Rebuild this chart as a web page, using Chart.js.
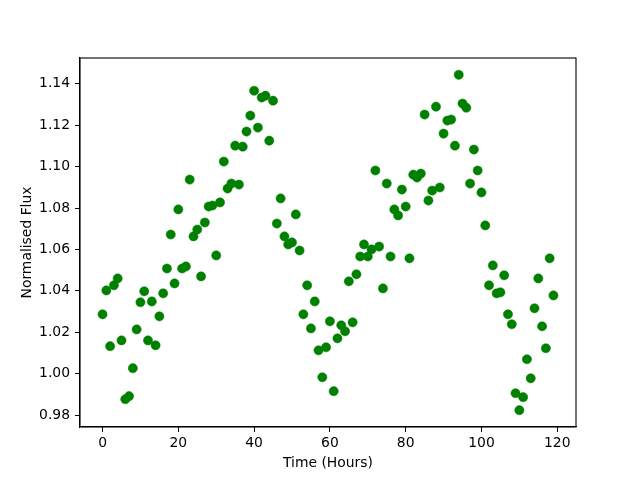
<!DOCTYPE html>
<html>
<head>
<meta charset="utf-8">
<script src="https://cdn.jsdelivr.net/npm/chart.js@4.4.1/dist/chart.umd.min.js"></script>
<style>
  html, body { margin: 0; padding: 0; background: #fff; }
  #wrap { width: 640px; height: 480px; }
</style>
</head>
<body>
<div id="wrap"><canvas id="c" width="640" height="480"></canvas></div>
<script>
const hours = [
    0, 1, 2, 3, 4, 5, 6, 7, 8, 9, 10, 11, 12, 13, 14, 15, 16, 17, 18, 19,
    20, 21, 22, 23, 24, 25, 26, 27, 28, 29, 30, 31, 32, 33, 34, 35, 36, 37, 38, 39,
    40, 41, 42, 43, 44, 45, 46, 47, 48, 49, 50, 51, 52, 53, 54, 55, 56, 57, 58, 59,
    60, 61, 62, 63, 64, 65, 66, 67, 68, 69, 70, 71, 72, 73, 74, 75, 76, 77, 78, 79,
    80, 81, 82, 83, 84, 85, 86, 87, 88, 89, 90, 91, 92, 93, 94, 95, 96, 97, 98, 99,
    100, 101, 102, 103, 104, 105, 106, 107, 108, 109, 110, 111, 112, 113, 114, 115, 116, 117, 118, 119
];
const flux = [
    1.0287, 1.0402, 1.0133, 1.0427, 1.0460, 1.0161, 0.9877, 0.9892, 1.0027, 1.0214,
    1.0345, 1.0398, 1.0161, 1.0349, 1.0137, 1.0277, 1.0388, 1.0508, 1.0672, 1.0436,
    1.0793, 1.0508, 1.0518, 1.0937, 1.0663, 1.0696, 1.0470, 1.0730, 1.0807, 1.0812,
    1.0571, 1.0827, 1.1024, 1.0894, 1.0918, 1.1101, 1.0913, 1.1096, 1.1169, 1.1246,
    1.1366, 1.1188, 1.1333, 1.1342, 1.1125, 1.1318, 1.0725, 1.0846, 1.0663, 1.0624,
    1.0634, 1.0769, 1.0595, 1.0287, 1.0427, 1.0219, 1.0349, 1.0113, 0.9983, 1.0128,
    1.0253, 0.9916, 1.0171, 1.0234, 1.0205, 1.0446, 1.0248, 1.0480, 1.0566, 1.0624,
    1.0566, 1.0600, 1.0981, 1.0614, 1.0412, 1.0918, 1.0566, 1.0793, 1.0764, 1.0889,
    1.0807, 1.0557, 1.0961, 1.0947, 1.0966, 1.1251, 1.0836, 1.0884, 1.1289, 1.0899,
    1.1159, 1.1222, 1.1227, 1.1101, 1.1443, 1.1304, 1.1284, 1.0918, 1.1082, 1.0981,
    1.0875, 1.0716, 1.0427, 1.0523, 1.0388, 1.0393, 1.0475, 1.0287, 1.0239, 0.9906,
    0.9824, 0.9887, 1.0070, 0.9978, 1.0316, 1.0460, 1.0229, 1.0123, 1.0557, 1.0378
];
const xTicks = [0, 20, 40, 60, 80, 100, 120];
const yTicks = [0.98, 1.00, 1.02, 1.04, 1.06, 1.08, 1.10, 1.12, 1.14];

const fontSize = 13.9;
Chart.defaults.font.family = "'DejaVu Sans', sans-serif";
Chart.defaults.font.size = fontSize;
Chart.defaults.color = '#000';

// black frame round the plot area, like matplotlib spines
const framePlugin = {
    id: 'frame',
    afterDraw(chart) {
        const {ctx, chartArea: {top, bottom, left, right}} = chart;
        ctx.save();
        ctx.strokeStyle = '#000';
        ctx.lineWidth = 1.1;
        ctx.strokeRect(left, top, right - left, bottom - top);
        ctx.restore();
    }
};

const points = hours.map((h, i) => ({x: h, y: flux[i]}));

new Chart(document.getElementById('c'), {
    type: 'scatter',
    data: {
        datasets: [{
            data: points,
            backgroundColor: '#008000',
            borderColor: '#008000',
            borderWidth: 0.5,
            pointRadius: 4.6,
            pointHoverRadius: 4.6
        }]
    },
    options: {
        responsive: false,
        animation: false,
        events: [],
        layout: {padding: {left: 0, right: 64, top: 58, bottom: 0}},
        plugins: {legend: {display: false}, tooltip: {enabled: false}},
        scales: {
            x: {
                type: 'linear',
                min: -5.95,
                max: 124.95,
                afterBuildTicks: scale => { scale.ticks = xTicks.map(v => ({value: v})); },
                afterFit: scale => { scale.height = 53; },
                grid: {drawOnChartArea: false, color: '#000', tickLength: 5, lineWidth: 1},
                border: {color: '#000', width: 1.1},
                ticks: {padding: 3, maxRotation: 0, callback: v => String(v)},
                title: {display: true, text: 'Time (Hours)', padding: {top: 0, bottom: 8.7}}
            },
            y: {
                type: 'linear',
                min: 0.9743,
                max: 1.1524,
                afterBuildTicks: scale => { scale.ticks = yTicks.map(v => ({value: v})); },
                afterFit: scale => { scale.width = 80; },
                grid: {drawOnChartArea: false, color: '#000', tickLength: 5, lineWidth: 1},
                border: {color: '#000', width: 1.1},
                ticks: {padding: 5, callback: v => v.toFixed(2)},
                title: {display: true, text: 'Normalised Flux', padding: {top: 18.7, bottom: 0}}
            }
        }
    },
    plugins: [framePlugin]
});
</script>
</body>
</html>
